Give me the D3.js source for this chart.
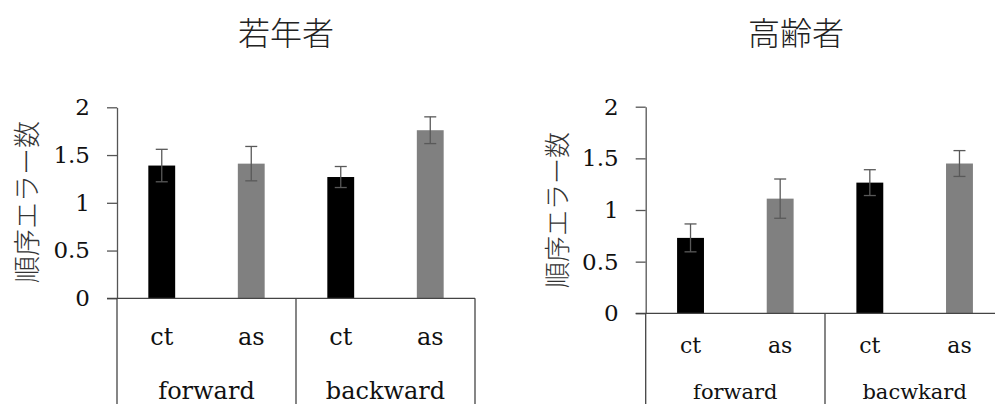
<!DOCTYPE html>
<html>
<head>
<meta charset="utf-8">
<script src="https://cdn.jsdelivr.net/npm/d3@7"></script>
<style>
  body { margin: 0; background: #fff; }
  svg { display: block; }
</style>
</head>
<body>
<div id="container"></div>
<script>
/* DATA */
const conditions = ["ct", "as", "ct", "as"];
const youngDirections = ["forward", "backward"];
const olderDirections = ["forward", "bacwkard"];
const youngMeans = [1.39, 1.41, 1.27, 1.76];
const youngErr = [0.17, 0.18, 0.11, 0.14];
const olderMeans = [0.73, 1.11, 1.265, 1.45];
const olderErr = [0.135, 0.19, 0.125, 0.125];
const yTicks = [0, 0.5, 1, 1.5, 2];
const yTickLabels = ["0", "0.5", "1", "1.5", "2"];
const titles = ["若年者", "高齢者"];
const yTitle = "順序エラー数";

const barColors = ["#000000", "#808080", "#000000", "#808080"];
const serif = "'DejaVu Serif', serif";

const svg = d3.select("#container")
  .append("svg")
  .attr("width", 995)
  .attr("height", 404);

// one panel per age group
function drawPanel(cfg) {
  const g = svg.append("g")
    .attr("transform", "translate(" + cfg.left + "," + cfg.top + ")");

  const xScale = d3.scaleBand()
    .domain(d3.range(cfg.means.length))
    .range([0, cfg.width])
    .paddingInner(0.7)
    .paddingOuter(0.35);

  const yScale = d3.scaleLinear()
    .domain([0, 2])
    .range([cfg.height, 0]);

  // bars
  g.selectAll("rect.bar")
    .data(cfg.means)
    .join("rect")
    .attr("class", "bar")
    .attr("x", (d, i) => xScale(i))
    .attr("y", d => yScale(d))
    .attr("width", xScale.bandwidth())
    .attr("height", d => yScale(0) - yScale(d))
    .attr("fill", (d, i) => barColors[i]);

  // error bars
  const err = g.selectAll("g.err")
    .data(cfg.means)
    .join("g")
    .attr("class", "err")
    .attr("stroke", "#595959")
    .attr("stroke-width", 1.3);
  const cx = i => xScale(i) + xScale.bandwidth() / 2;
  err.append("line")
    .attr("x1", (d, i) => cx(i)).attr("x2", (d, i) => cx(i))
    .attr("y1", (d, i) => yScale(d + cfg.err[i]))
    .attr("y2", (d, i) => yScale(d - cfg.err[i]));
  err.append("line")
    .attr("x1", (d, i) => cx(i) - 6).attr("x2", (d, i) => cx(i) + 6)
    .attr("y1", (d, i) => yScale(d + cfg.err[i]))
    .attr("y2", (d, i) => yScale(d + cfg.err[i]));
  err.append("line")
    .attr("x1", (d, i) => cx(i) - 6).attr("x2", (d, i) => cx(i) + 6)
    .attr("y1", (d, i) => yScale(d - cfg.err[i]))
    .attr("y2", (d, i) => yScale(d - cfg.err[i]));

  // y axis
  const yAxis = g.append("g")
    .call(d3.axisLeft(yScale)
      .tickValues(yTicks)
      .tickFormat((d, i) => yTickLabels[i])
      .tickSize(10)
      .tickSizeOuter(0)
      .tickPadding(17))
    .attr("font-family", serif)
    .attr("font-size", 23);
  yAxis.select(".domain").attr("stroke", "#555").attr("stroke-width", 1.3);
  yAxis.selectAll(".tick line").attr("stroke", "#555").attr("stroke-width", 1.3);
  yAxis.selectAll(".tick text").attr("fill", "#111");

  // baseline + category box
  const axisColor = "#444";
  g.append("line")
    .attr("x1", -10).attr("x2", cfg.width)
    .attr("y1", yScale(0)).attr("y2", yScale(0))
    .attr("stroke", axisColor).attr("stroke-width", 1.3);
  const boxBottom = 404 - cfg.top;
  [0, cfg.width / 2, cfg.width].forEach(x => {
    g.append("line")
      .attr("x1", x).attr("x2", x)
      .attr("y1", yScale(0)).attr("y2", boxBottom)
      .attr("stroke", axisColor).attr("stroke-width", 1.3);
  });

  // condition labels
  g.selectAll("text.cond")
    .data(conditions)
    .join("text")
    .attr("class", "cond")
    .attr("x", (d, i) => cx(i))
    .attr("y", cfg.condY - cfg.top)
    .attr("text-anchor", "middle")
    .attr("font-family", serif)
    .attr("font-size", cfg.condSize)
    .attr("fill", "#111")
    .text(d => d);

  // direction labels
  g.selectAll("text.dir")
    .data(cfg.directions)
    .join("text")
    .attr("class", "dir")
    .attr("x", (d, i) => cfg.width / 4 + i * cfg.width / 2)
    .attr("y", cfg.dirY - cfg.top)
    .attr("text-anchor", "middle")
    .attr("font-family", serif)
    .attr("font-size", cfg.dirSize)
    .attr("fill", "#111")
    .text(d => d);

  // y title
  g.append("text")
    .attr("transform", "translate(" + (cfg.yTitleX - cfg.left) + "," + (cfg.yTitleY - cfg.top) + ") rotate(-90)")
    .attr("text-anchor", "middle")
    .attr("dominant-baseline", "central")
    .attr("font-family", "Noto Sans CJK JP")
    .attr("font-weight", 300)
    .attr("font-size", cfg.yTitleSize)
    .attr("fill", "#333")
    .text(yTitle);

  // panel title
  svg.append("text")
    .attr("x", cfg.titleX)
    .attr("y", 31)
    .attr("text-anchor", "middle")
    .attr("dominant-baseline", "central")
    .attr("font-family", "Noto Sans CJK JP")
    .attr("font-weight", 300)
    .attr("font-size", 32)
    .attr("fill", "#222")
    .text(cfg.title);
}

drawPanel({
  left: 117, top: 107.3, width: 358, height: 191,
  means: youngMeans, err: youngErr, directions: youngDirections,
  condY: 345, condSize: 24, dirY: 399, dirSize: 24,
  yTitleX: 25, yTitleY: 202, yTitleSize: 27,
  titleX: 286, title: titles[0]
});

drawPanel({
  left: 645.7, top: 106.7, width: 358.6, height: 206.6,
  means: olderMeans, err: olderErr, directions: olderDirections,
  condY: 353, condSize: 22, dirY: 399, dirSize: 21,
  yTitleX: 555, yTitleY: 210, yTitleSize: 26,
  titleX: 796, title: titles[1]
});
</script>
</body>
</html>
